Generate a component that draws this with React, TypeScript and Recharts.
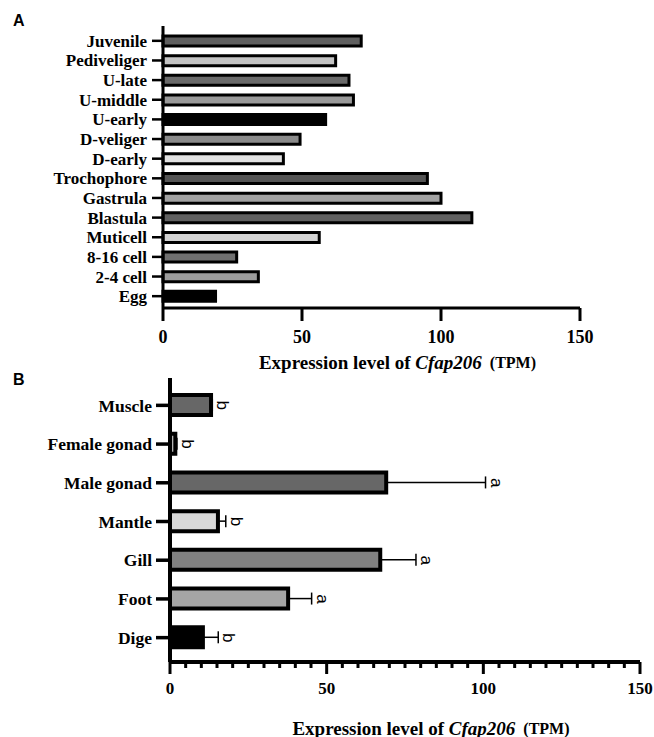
import React from 'react';
import { BarChart, Bar, XAxis, YAxis, Cell, ErrorBar, ReferenceDot, Label } from 'recharts';

// ---- Panel A data ----
const stagesA = ['Juvenile', 'Pediveliger', 'U-late', 'U-middle', 'U-early', 'D-veliger', 'D-early', 'Trochophore', 'Gastrula', 'Blastula', 'Muticell', '8-16 cell', '2-4 cell', 'Egg'];
const valuesA = [71.3, 62.1, 66.9, 68.5, 58.5, 49.3, 43.3, 95.1, 100.0, 111.1, 56.2, 26.5, 34.3, 18.9];
const colorsA = ['#5f5f5f', '#c4c4c4', '#6a6a6a', '#9a9a9a', '#000000', '#8a8a8a', '#e2e2e2', '#555555', '#a2a2a2', '#606060', '#d2d2d2', '#707070', '#9c9c9c', '#000000'];
const ticksA = [0, 50, 100, 150];

// ---- Panel B data ----
const tissuesB = ['Muscle', 'Female gonad', 'Male gonad', 'Mantle', 'Gill', 'Foot', 'Dige'];
const valuesB = [13.1, 1.7, 69.0, 15.3, 67.1, 37.7, 10.5];
const errorsB = [0.4, 0.5, 31.7, 2.5, 11.4, 7.5, 4.9];
const lettersB = ['b', 'b', 'a', 'b', 'a', 'a', 'b'];
const colorsB = ['#676767', '#b4b4b4', '#676767', '#d9d9d9', '#818181', '#a5a5a5', '#000000'];
const majorTicksB = [0, 50, 100, 150];
const ticksB = [0, 5, 10, 15, 20, 25, 30, 35, 40, 45, 50, 55, 60, 65, 70, 75, 80, 85, 90, 95, 100, 105, 110, 115, 120, 125, 130, 135, 140, 145, 150];

const SERIF = '"Liberation Serif", "Times New Roman", serif';
const SANS = '"Liberation Sans", Arial, sans-serif';

const dataA = stagesA.map((name, i) => ({ name, value: valuesA[i] }));
const dataB = tissuesB.map((name, i) => ({
  name,
  value: valuesB[i],
  errRange: [0, errorsB[i]],
  end: valuesB[i] + errorsB[i],
  letter: lettersB[i],
}));

const makeXTick = (major: number[], majorLen: number, minorLen: number, sw: number, fontSize: number, labelDy: number) =>
  (props: any) => {
    const { x, y, payload } = props;
    const v = payload.value;
    const isMajor = major.includes(v);
    return (
      <g>
        <line x1={x} x2={x} y1={y} y2={y + (isMajor ? majorLen : minorLen)} stroke="#000" strokeWidth={sw} />
        {isMajor && (
          <text x={x} y={y + labelDy} textAnchor="middle" dominantBaseline="central"
            fontFamily={SERIF} fontWeight={700} fontSize={fontSize} fill="#000">{v}</text>
        )}
      </g>
    );
  };

const makeTitle = (dx: number, dy: number) => (props: any) => {
  const vb = props.viewBox || { x: 0, y: 0, width: 0, height: 0 };
  return (
    <text x={vb.x + vb.width / 2 + dx} y={vb.y + dy} textAnchor="middle" dominantBaseline="central"
      fontFamily={SERIF} fontWeight={700} fontSize={19} fill="#000">
      <tspan>Expression level of </tspan>
      <tspan fontStyle="italic">Cfap206</tspan>
      <tspan fontSize={16} dx={8}>(TPM)</tspan>
    </text>
  );
};

const letterLabel = (letter: string) => (props: any) => {
  const vb = props.viewBox || { x: 0, y: 0, width: 0, height: 0 };
  const cx = vb.x + (vb.width || 0) / 2 + 5;
  const cy = vb.y + (vb.height || 0) / 2;
  return (
    <text x={cx} y={cy} transform={`rotate(90 ${cx} ${cy})`} textAnchor="middle"
      fontFamily={SANS} fontSize={17} fill="#000">{letter}</text>
  );
};

export default function App() {
  return (
    <div style={{ position: 'absolute', left: 0, top: 0, width: 654, height: 737, background: '#fff' }}>
      <div style={{ position: 'absolute', left: 13, top: 13, fontFamily: SANS, fontWeight: 700, fontSize: 16, lineHeight: 1 }}>A</div>
      <div style={{ position: 'absolute', left: 13, top: 372, fontFamily: SANS, fontWeight: 700, fontSize: 16, lineHeight: 1 }}>B</div>

      <div style={{ position: 'absolute', left: 0, top: 370 }}>
        <BarChart width={654} height={367} data={dataB} layout="vertical"
          margin={{ top: 8, right: 14, bottom: 0, left: 0 }}>
          <XAxis type="number" domain={[0, 150]} ticks={ticksB} interval={0} height={75}
            axisLine={{ stroke: '#000', strokeWidth: 4 }} tickLine={false} tickSize={0} tickMargin={0}
            tick={makeXTick(majorTicksB, 12, 6, 3, 17, 26)}>
            <Label content={makeTitle(26, 66)} />
          </XAxis>
          <YAxis type="category" dataKey="name" width={170} interval={0}
            padding={{ top: 8, bottom: 5 }}
            axisLine={{ stroke: '#000', strokeWidth: 4 }}
            tickLine={{ stroke: '#000', strokeWidth: 3.5 }} tickSize={14} tickMargin={4}
            tick={{ fontFamily: SERIF, fontWeight: 700, fontSize: 17.5, fill: '#000' }} />
          <Bar dataKey="value" barSize={20} stroke="#000" strokeWidth={4} isAnimationActive={false}>
            {dataB.map((d, i) => <Cell key={d.name} fill={colorsB[i]} />)}
            <ErrorBar dataKey="errRange" direction="x" width={6} stroke="#000" strokeWidth={1.5} isAnimationActive={false} />
          </Bar>
          {dataB.map((d) => (
            <ReferenceDot key={d.name} x={d.end} y={d.name} r={1} fill="none" stroke="none" ifOverflow="visible"
              label={letterLabel(d.letter)} />
          ))}
        </BarChart>
      </div>

      <div style={{ position: 'absolute', left: 0, top: 0 }}>
        <BarChart width={654} height={385} data={dataA} layout="vertical"
          margin={{ top: 26, right: 74, bottom: 0, left: 0 }}>
          <XAxis type="number" domain={[0, 150]} ticks={ticksA} interval={0} height={77}
            axisLine={{ stroke: '#000', strokeWidth: 3 }} tickLine={false} tickSize={0} tickMargin={0}
            tick={makeXTick(ticksA, 13, 13, 3, 18, 29)}>
            <Label content={makeTitle(26, 54)} />
          </XAxis>
          <YAxis type="category" dataKey="name" width={163} interval={0}
            padding={{ top: 5, bottom: 2 }}
            axisLine={{ stroke: '#000', strokeWidth: 3 }}
            tickLine={{ stroke: '#000', strokeWidth: 2.5 }} tickSize={11} tickMargin={5}
            tick={{ fontFamily: SERIF, fontWeight: 700, fontSize: 17, fill: '#000' }} />
          <Bar dataKey="value" barSize={10} stroke="#000" strokeWidth={3} isAnimationActive={false}>
            {dataA.map((d, i) => <Cell key={d.name} fill={colorsA[i]} />)}
          </Bar>
        </BarChart>
      </div>
    </div>
  );
}
